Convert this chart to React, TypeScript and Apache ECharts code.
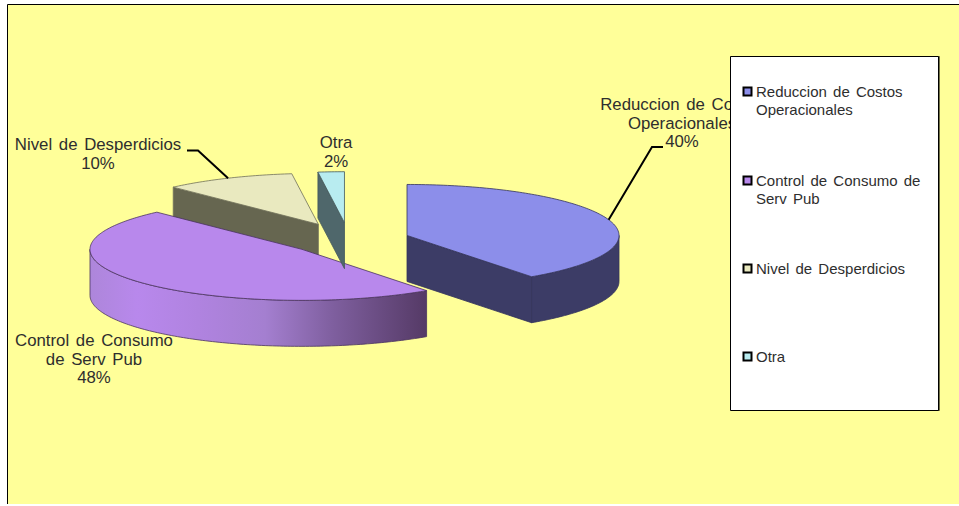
import React, { useEffect, useRef } from "react";
import * as echarts from "echarts";

// Survey shares per category, clockwise from twelve o'clock.
const categories = ["Reduccion de Costos Operacionales", "Control de Consumo de Serv Pub", "Nivel de Desperdicios", "Otra"];
const values = [40, 48, 10, 2];
const topColors = ["#8c8eea", "#b888ec", "#e9e9bf", "#b8ecf0"];
const wallColors = ["#3c3c66", "#553a66", "#666650", "#4f676b"];
const edgeColors = ["#34345c", "#4a3360", "#70705a", "#44585c"];
const legendLines = [["Reduccion de Costos", "Operacionales"], ["Control de Consumo de", "Serv Pub"], ["Nivel de Desperdicios"], ["Otra"]];
const sliceLabelNames = ["Reduccion de Costos\nOperacionales", "Control de Consumo\nde Serv Pub", "Nivel de Desperdicios", "Otra"];

// Projected pie geometry.
const PIE = { cx: 349, cy: 240, rx: 212, ry: 51, depth: 46 };
const explodeBySlice = [61, 61, 72, 72];
const drawOrder = [2, 3, 1, 4]; // stacking of slices 0..3, back to front

// Label centres and leader elbows, one per slice.
const labelCentres = [[682, 123], [94, 359], [98, 154], [336, 152]];
const leaderElbows: (number[][] | null)[] = [[[652, 147], [663, 147]], null, [[198, 150.5], [187, 150.5]], null];

const LEGEND_BOX = { x: 730.5, y: 56.5, w: 208, h: 354 };
const legendRowTops = [91, 180, 268, 356];

const purpleWallFill = {
  type: "linear", x: 0, y: 0, x2: 1, y2: 0,
  colorStops: [
    { offset: 0, color: "#ad86da" },
    { offset: 0.14, color: "#b888ec" },
    { offset: 0.32, color: "#b083e0" },
    { offset: 0.52, color: "#a47fd0" },
    { offset: 0.72, color: "#7f5f9f" },
    { offset: 1, color: "#553a66" },
  ],
};

const total = values.reduce((a, b) => a + b, 0);
const rad = (d: number) => (d * Math.PI) / 180;

function arcPoint(cx: number, cy: number, deg: number) {
  return [cx + PIE.rx * Math.sin(rad(deg)), cy - PIE.ry * Math.cos(rad(deg))];
}

function arcPoints(cx: number, cy: number, from: number, to: number) {
  const pts: number[][] = [];
  const n = Math.max(2, Math.ceil(to - from));
  for (let i = 0; i <= n; i++) pts.push(arcPoint(cx, cy, from + ((to - from) * i) / n));
  return pts;
}

const down = (pts: number[][]) => pts.map(([x, y]) => [x, y + PIE.depth]);

function renderSlice(params: any, api: any) {
  const i = params.dataIndex;
  const value = api.value(0);
  const before = values.slice(0, i).reduce((a, b) => a + b, 0);
  const a0 = (before / total) * 360;
  const a1 = a0 + (value / total) * 360;
  const mid = (a0 + a1) / 2;
  const explode = explodeBySlice[i];
  const cx = PIE.cx + explode * Math.sin(rad(mid));
  const cy = PIE.cy - (explode * PIE.ry / PIE.rx) * Math.cos(rad(mid));
  const z2 = drawOrder[i] * 10;
  const edge = { stroke: edgeColors[i], lineWidth: 0.8 };
  const children: any[] = [];
  const poly = (points: number[][], fill: any, bump = 0) => {
    children.push({ type: "polygon", z2: z2 + bump, shape: { points }, style: { fill, ...edge } });
  };

  // Cut faces that turn towards the viewer.
  const cut = (deg: number) => {
    const rim = arcPoint(cx, cy, deg);
    poly([rim, [cx, cy], [cx, cy + PIE.depth], [rim[0], rim[1] + PIE.depth]], wallColors[i]);
  };
  if (Math.sin(rad(a0)) < -1e-6) cut(a0);
  if (Math.sin(rad(a1)) > 1e-6) cut(a1);

  // Outer rim, front half of the ellipse only.
  const f0 = Math.max(a0, 90);
  const f1 = Math.min(a1, 270);
  if (f1 > f0) {
    const rim = arcPoints(cx, cy, f0, f1);
    poly([...rim, ...down(rim).reverse()], i === 1 ? purpleWallFill : wallColors[i], 1);
  }

  // Top face.
  poly([[cx, cy], ...arcPoints(cx, cy, a0, a1)], topColors[i], 2);

  const elbows = leaderElbows[i];
  if (elbows) {
    children.push({
      type: "polyline",
      z2: 60,
      shape: { points: [arcPoint(cx, cy, mid), ...elbows] },
      style: { stroke: "#000", lineWidth: 2, fill: null },
    });
  }
  const [lx, ly] = labelCentres[i];
  children.push({
    type: "text",
    z2: 61,
    x: lx,
    y: ly,
    style: {
      text: `${sliceLabelNames[i]}\n${Math.round((value / total) * 100)}%`,
      fill: "#2e2e2e",
      font: '16.8px "Liberation Sans", Arial, sans-serif',
      lineHeight: 18.5,
      align: "center",
      verticalAlign: "middle",
    },
  });
  return { type: "group", children };
}

export default function App() {
  const ref = useRef<HTMLDivElement>(null);
  useEffect(() => {
    const chart = echarts.init(ref.current!, null, { renderer: "svg" });
    const legendItems: any[] = [];
    legendLines.forEach((lines, i) => {
      legendItems.push({
        type: "rect",
        z: 102,
        shape: { x: 743.5, y: legendRowTops[i] - 3.5, width: 8, height: 8 },
        style: { fill: topColors[i], stroke: "#000", lineWidth: 2 },
      });
      legendItems.push({
        type: "text",
        z: 102,
        x: 756,
        y: legendRowTops[i],
        style: {
          text: lines.join("\n"),
          fill: "#2e2e2e",
          font: '15px "Liberation Sans", Arial, sans-serif',
          lineHeight: 18,
          verticalAlign: "top",
          y: -9,
        },
      });
    });
    chart.setOption({
      animation: false,
      backgroundColor: "#ffffff",
      graphic: [
        {
          type: "rect",
          z: -10,
          silent: true,
          shape: { x: 7.5, y: 4.5, width: 960, height: 499.5 },
          style: { fill: "#ffff99", stroke: "none" },
        },
        {
          type: "polyline",
          z: -9,
          silent: true,
          shape: { points: [[7.5, 504], [7.5, 4.5], [959, 4.5]] },
          style: { stroke: "#000", lineWidth: 1, fill: null },
        },
        {
          type: "rect",
          z: 100,
          shape: { x: LEGEND_BOX.x, y: LEGEND_BOX.y, width: LEGEND_BOX.w, height: LEGEND_BOX.h },
          style: { fill: "#ffffff", stroke: "#000", lineWidth: 1, shadowColor: "rgba(0,0,0,0.55)", shadowOffsetX: 1, shadowOffsetY: 0, shadowBlur: 0 },
        },
        ...legendItems,
      ],
      series: [
        {
          type: "custom",
          coordinateSystem: "none",
          silent: true,
          renderItem: renderSlice,
          data: categories.map((name, i) => ({ name, value: values[i] })),
        },
      ],
    });
    return () => chart.dispose();
  }, []);
  return (
    <>
      {/* The labels are set with open word spacing. */}
      <style>{"svg text { word-spacing: 2px; }"}</style>
      <div ref={ref} style={{ position: "absolute", left: 0, top: 0, width: 959, height: 506 }} />
    </>
  );
}
